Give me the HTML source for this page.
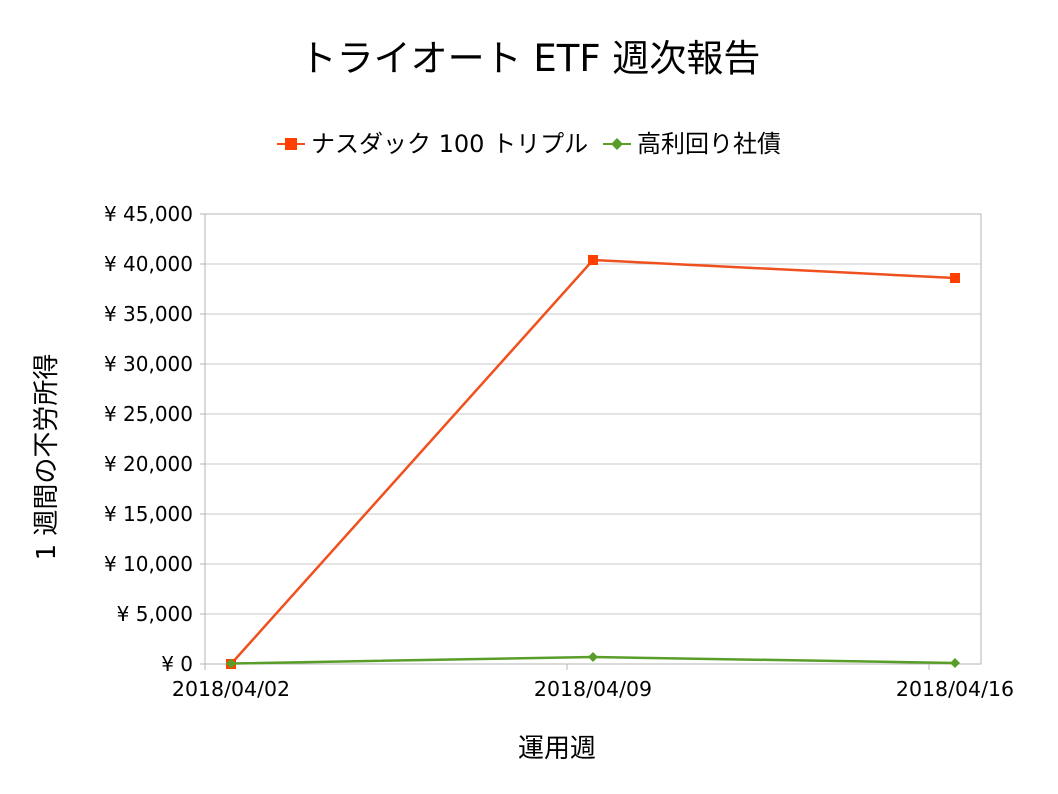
<!DOCTYPE html>
<html><head><meta charset="utf-8">
<style>
html,body{margin:0;padding:0;background:#fff;}
svg{display:block;font-family:"DejaVu Sans","Noto Sans CJK JP",sans-serif;}
</style></head>
<body>
<svg id="chart" width="1058" height="794" viewBox="0 0 1058 794">
<text x="530" y="71" text-anchor="middle" font-size="37" fill="#000">トライオート ETF 週次報告</text>
<g>
 <g>
  <line x1="277" y1="144" x2="305" y2="144" stroke="#f0501e" stroke-width="2"/>
  <rect x="285" y="138" width="12" height="12" fill="#ff4000"/>
  <text x="311" y="152" font-size="24" fill="#000">ナスダック 100 トリプル</text>
 </g>
 <g>
  <line x1="603" y1="144" x2="631" y2="144" stroke="#5a9e2a" stroke-width="2"/>
  <polygon points="617,138 623,144 617,150 611,144" fill="#5a9e2a"/>
  <text x="637" y="152" font-size="24" fill="#000">高利回り社債</text>
 </g>
</g>
<g id="grid"></g>
<g id="axes"></g>
<g id="series"></g>
<text x="557" y="757" text-anchor="middle" font-size="26" fill="#000">運用週</text>
<text transform="translate(55,457) rotate(-90)" text-anchor="middle" font-size="26" fill="#000">1 週間の不労所得</text>
</svg>
<script>
const categories = ["2018/04/02","2018/04/09","2018/04/16"];
const nasdaq = [0, 40400, 38600];
const bond = [50, 700, 100];
const yTicks = [0,5000,10000,15000,20000,25000,30000,35000,40000,45000];
const yTickLabels = ["¥ 0","¥ 5,000","¥ 10,000","¥ 15,000","¥ 20,000","¥ 25,000","¥ 30,000","¥ 35,000","¥ 40,000","¥ 45,000"];

const NS="http://www.w3.org/2000/svg";
const L=205,R=981,T=214,B=664,yMax=45000;
const y=v=>B-(v/yMax)*(B-T);
const x=i=>231+i*362;
function mk(tag,attrs,parent){const e=document.createElementNS(NS,tag);for(const k in attrs)e.setAttribute(k,attrs[k]);parent.appendChild(e);return e;}
const grid=document.getElementById('grid'),axes=document.getElementById('axes'),series=document.getElementById('series');
yTicks.forEach((v,i)=>{
 const g=mk('line',{x1:L,x2:R,y1:y(v),y2:y(v),stroke:'#c8c8c8','stroke-width':1},grid);
 
 
 const tk=mk('line',{x1:L-5,x2:L,y1:y(v),y2:y(v),stroke:'#b4b4b4'},axes);
 
 
 const t=mk('text',{x:193,y:y(v)+7,'text-anchor':'end','font-size':20,fill:'#000'},axes);
 t.textContent=yTickLabels[i];
 
 
});
const fr=mk('rect',{x:L,y:T,width:R-L,height:B-T,fill:'none',stroke:'#b4b4b4'},axes);


for(let k=0;k<3;k++){
 const tk=mk('line',{x1:L+k*362,x2:L+k*362,y1:B,y2:B+6,stroke:'#b4b4b4'},axes);
 
 
}
categories.forEach((c,i)=>{
 const t=mk('text',{x:x(i),y:B+32,'text-anchor':'middle','font-size':20.5,fill:'#000'},axes);
 t.textContent=c;
 
 
});
function drawSeries(vals,color,mcolor,shape,name){
 const p=mk('polyline',{points:vals.map((v,i)=>x(i)+','+y(v)).join(' '),fill:'none',stroke:color,'stroke-width':2.5},series);
 
 
 vals.forEach((v,i)=>{
  let m;
  if(shape==='sq') m=mk('rect',{x:x(i)-5,y:y(v)-5,width:10,height:10,fill:mcolor},series);
  else m=mk('polygon',{points:`${x(i)},${y(v)-5} ${x(i)+5},${y(v)} ${x(i)},${y(v)+5} ${x(i)-5},${y(v)}`,fill:mcolor},series);
  
  
 });
}
drawSeries(nasdaq,'#f0501e','#ff4000','sq','nasdaq');
drawSeries(bond,'#5a9e2a','#5a9e2a','dia','bond');
</script>
</body></html>
